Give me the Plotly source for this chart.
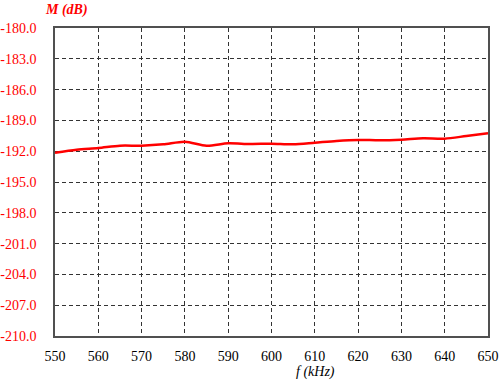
import plotly.graph_objects as go

freq_khz = [550, 555, 560, 565, 570, 575, 580, 585, 590, 595, 600, 605, 610, 615, 620, 625, 630, 635, 640, 645, 650]
m_db = [-192.15, -191.85, -191.69, -191.46, -191.46, -191.33, -191.07, -191.46, -191.23, -191.30,
        -191.27, -191.33, -191.17, -191.00, -190.90, -190.94, -190.88, -190.75, -190.78, -190.52, -190.26]
y_ticks = [-180, -183, -186, -189, -192, -195, -198, -201, -204, -207, -210]
x_ticks = [550, 560, 570, 580, 590, 600, 610, 620, 630, 640, 650]

font_family = "Liberation Serif, Times New Roman, serif"

fig = go.Figure()
fig.add_trace(go.Scatter(x=freq_khz, y=m_db, mode="lines",
                         line=dict(color="#ff0000", width=2.5, shape="spline", smoothing=0.8),
                         showlegend=False))

fig.update_layout(
    width=500, height=381,
    margin=dict(l=55, r=12, t=28, b=45),
    paper_bgcolor="white", plot_bgcolor="white",
    font=dict(family=font_family, size=14),
    xaxis=dict(range=[550, 650], tickvals=x_ticks, ticktext=[str(v) for v in x_ticks],
               showgrid=True, gridcolor="#333333", griddash="4px,3px", gridwidth=1,
               showline=True, linecolor="#505050", linewidth=1.5, mirror=True,
               ticks="", tickfont=dict(color="black", size=14, family=font_family),
               zeroline=False, ticklabelstandoff=6, automargin=False),
    yaxis=dict(range=[-210, -180], tickvals=y_ticks, ticktext=[f"{v:.1f}" for v in y_ticks],
               showgrid=True, gridcolor="#333333", griddash="4px,3px", gridwidth=1,
               showline=True, linecolor="#505050", linewidth=1.5, mirror=True,
               ticks="", tickfont=dict(color="#ff0000", size=14, family=font_family),
               zeroline=False, ticklabelstandoff=14, automargin=False),
    annotations=[
        dict(text="<b><i>M (dB)</i></b>", xref="paper", yref="paper",
             x=(66 - 55) / 433, y=1 + (28 - 10) / 308, xanchor="center", yanchor="middle",
             showarrow=False, font=dict(color="#ff0000", size=14, family=font_family)),
        dict(text="<i>f (kHz)</i>", xref="paper", yref="paper",
             x=(315 - 55) / 433, y=-(372 - 336) / 308, xanchor="center", yanchor="middle",
             showarrow=False, font=dict(color="black", size=14, family=font_family)),
    ],
)

fig.write_html("out.html")
